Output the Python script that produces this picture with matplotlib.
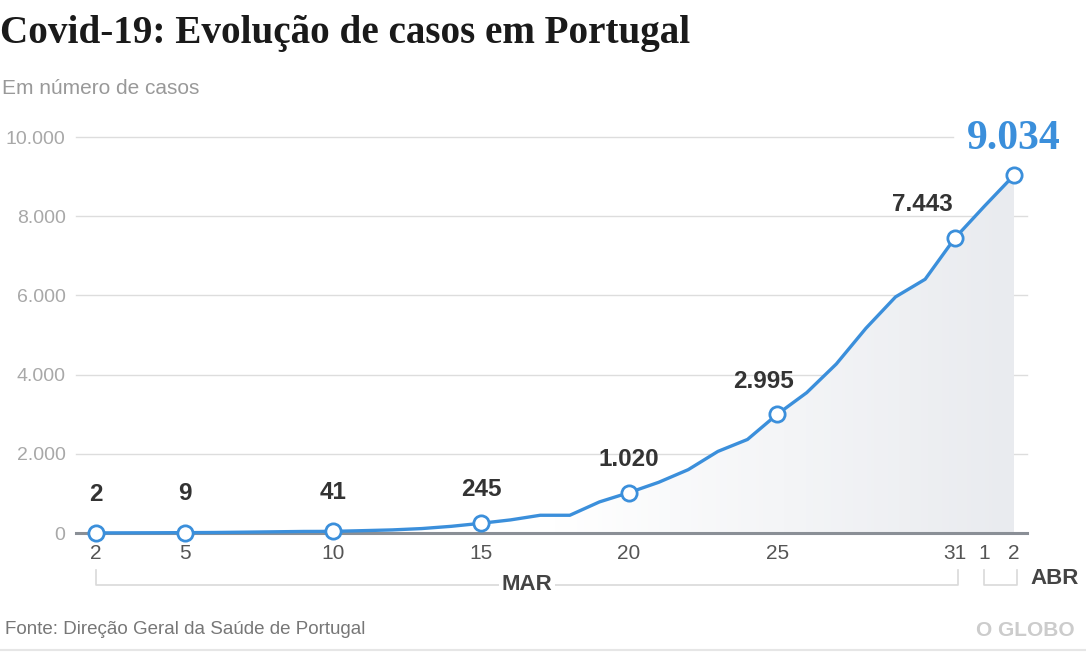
import numpy as np
import matplotlib.pyplot as plt
from matplotlib.lines import Line2D
from matplotlib.colors import LinearSegmentedColormap
import matplotlib.transforms as mtransforms

# dias: 2 de marco ate 2 de abril
day_labels = [str(d) for d in range(2, 32)] + ["1", "2"]
cases = [2, 4, 6, 9, 13, 21, 30, 39, 41, 59, 78, 112, 169, 245, 331, 448, 448,
         785, 1020, 1280, 1600, 2060, 2362, 2995, 3544, 4268, 5170, 5962,
         6408, 7443, 8251, 9034]
highlight = [0, 3, 8, 13, 18, 23, 29, 31]
tick_idx = [0, 3, 8, 13, 18, 23, 29, 30, 31]
yticks = [0, 2000, 4000, 6000, 8000, 10000]
ytick_labels = ["0", "2.000", "4.000", "6.000", "8.000", "10.000"]

blue = "#3b8fdb"
W, H = 1086, 652
fig = plt.figure(figsize=(W / 100, H / 100), dpi=100)
ax = fig.add_axes([78 / W, (H - 533) / H, (1027 - 78) / W, 396 / H])

x = np.arange(len(cases))

# fundo em degrade sob a curva
poly = ax.fill_between(x, 0, cases, color="none", lw=0)
grad = np.linspace(0, 1, 256).reshape(1, -1)
cmap = LinearSegmentedColormap.from_list("g", ["#ffffff", "#ffffff", "#e9ebef"])
im = ax.imshow(grad, cmap=cmap, extent=[0, x[-1], 0, 10000], aspect="auto",
               origin="lower", zorder=1)
im.set_clip_path(poly.get_paths()[0], transform=ax.transData)

ax.plot(x, cases, color=blue, lw=2.4, zorder=3, clip_on=False)
ax.plot(x[highlight], np.array(cases)[highlight], "o", ms=11, mfc="white",
        mec=blue, mew=2, zorder=4, clip_on=False)

ax.set_xlim(-0.61, 31.44)
ax.set_ylim(0, 10000)

for i in highlight[:-1]:
    dx = -32 if i == 29 else (-14 if i == 23 else 0)
    dy = 28 if cases[i] < 100 else 24
    ax.annotate(f"{cases[i]:,}".replace(",", "."), (x[i], cases[i]),
                xytext=(dx * 0.72, dy), textcoords="offset points",
                ha="center", va="center", fontsize=17.5, fontweight="bold",
                color="#333333", family="Liberation Sans")
last = highlight[-1]
ax.annotate(f"{cases[last]:,}".replace(",", "."), (x[last], cases[last]),
            xytext=(0, 26), textcoords="offset points", ha="center",
            va="center", fontsize=30, fontweight="bold", color=blue,
            family="Liberation Serif")

# grade
for v in yticks[1:]:
    xmax = (953 - 78) / (1027 - 78) if v == 10000 else 1
    ax.axhline(v, xmin=-2 / 949, xmax=xmax, color="#dddddd", lw=1, zorder=0,
               clip_on=False)
ax.axhline(0, xmin=-2 / 949, color="#8a8f96", lw=2.2, zorder=2, clip_on=False)

for s in ax.spines.values():
    s.set_visible(False)
ax.set_yticks(yticks)
ax.set_yticklabels(ytick_labels)
ax.set_xticks(tick_idx)
ax.set_xticklabels([day_labels[i] for i in tick_idx])
ax.tick_params(axis="y", length=0, pad=9, labelsize=14, labelcolor="#a8a8a8")
ax.tick_params(axis="x", length=0, pad=8, labelsize=15, labelcolor="#555555")
for lab in ax.get_xticklabels() + ax.get_yticklabels():
    lab.set_family("Liberation Sans")

# chaves dos meses
tr = mtransforms.blended_transform_factory(ax.transData, ax.transAxes)
y0, y1 = (533 - 570) / 396, (533 - 585) / 396
bc = "#d9d9d9"
for a, b in [(0, 29.1), (30, 31.1)]:
    ax.add_line(Line2D([a, a, b, b], [y0, y1, y1, y0], transform=tr,
                       color=bc, lw=1.2, clip_on=False))
ax.text(14.55, y1, "MAR", transform=tr, ha="center", va="center",
        fontsize=16, fontweight="bold", color="#444444",
        family="Liberation Sans",
        bbox=dict(facecolor="white", edgecolor="none", pad=2))
fig.text(1030 / W, 1 - 578 / H, "ABR", ha="left", va="center", fontsize=16,
         fontweight="bold", color="#444444", family="Liberation Sans")

fig.text(0, 1 - 43 / H, "Covid-19: Evolução de casos em Portugal",
         ha="left", va="baseline", fontsize=28.2, fontweight="bold",
         color="#1a1a1a", family="Liberation Serif")
fig.text(2 / W, 1 - 94 / H, "Em número de casos", ha="left", va="baseline",
         fontsize=15, color="#999999", family="Liberation Sans")
fig.text(5 / W, 1 - 630 / H, "Fonte: Direção Geral da Saúde de Portugal",
         ha="left", va="center", fontsize=13.5, color="#777777",
         family="Liberation Sans")
fig.text(1025 / W, 1 - 631 / H, "O GLOBO", ha="center", va="center",
         fontsize=15, fontweight="bold", color="#cccccc",
         family="Liberation Sans")
fig.add_artist(Line2D([0, 1], [1 - 650 / H] * 2, color="#e6e6e6", lw=1.5))

fig.savefig("out.png", dpi=100)
